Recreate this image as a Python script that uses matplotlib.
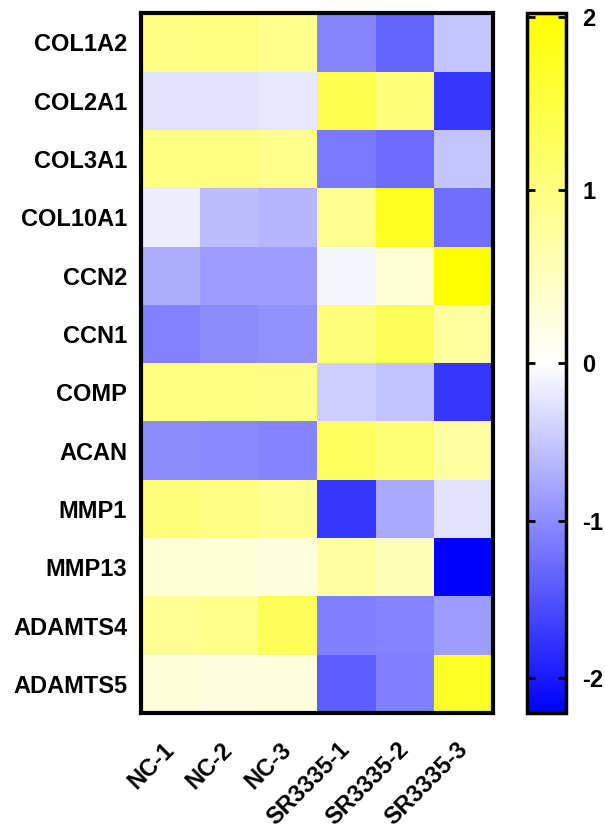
import numpy as np
import matplotlib.pyplot as plt
from matplotlib.colors import LinearSegmentedColormap, TwoSlopeNorm

plt.rcParams['font.family'] = ['Liberation Sans', 'DejaVu Sans']
plt.rcParams['font.weight'] = 'bold'

genes = ['COL1A2', 'COL2A1', 'COL3A1', 'COL10A1', 'CCN2', 'CCN1', 'COMP',
         'ACAN', 'MMP1', 'MMP13', 'ADAMTS4', 'ADAMTS5']
samples = ['NC-1', 'NC-2', 'NC-3', 'SR3335-1', 'SR3335-2', 'SR3335-3']

nc1 = [0.95, -0.25, 1.00, -0.15, -0.70, -1.08, 0.99, -1.00, 1.03, 0.32, 0.84, 0.28]
nc2 = [1.00, -0.25, 1.00, -0.57, -0.84, -1.00, 0.99, -1.01, 0.95, 0.30, 0.92, 0.24]
nc3 = [0.90, -0.20, 0.93, -0.64, -0.84, -0.95, 0.97, -1.06, 0.88, 0.26, 1.30, 0.26]
sr1 = [-1.05, 1.39, -1.16, 0.89, -0.08, 1.03, -0.43, 1.27, -1.74, 0.72, -1.10, -1.41]
sr2 = [-1.35, 1.07, -1.28, 1.75, 0.32, 1.30, -0.53, 1.10, -0.75, 0.56, -1.06, -1.10]
sr3 = [-0.50, -1.74, -0.51, -1.25, 2.02, 0.76, -1.74, 0.72, -0.26, -2.22, -0.84, 1.70]

data = np.array([nc1, nc2, nc3, sr1, sr2, sr3]).T

cmap = LinearSegmentedColormap.from_list('bwy', ['#0000ff', '#ffffff', '#ffff00'])
norm = TwoSlopeNorm(vmin=-2.22, vcenter=0, vmax=2.02)

fig = plt.figure(figsize=(6.05, 8.3), dpi=100)
ax = fig.add_axes([0.233, 0.141, 0.582, 0.843])
cax = fig.add_axes([0.871, 0.141, 0.064, 0.843])

mesh = ax.pcolormesh(data, cmap=cmap, norm=norm)
ax.set_xlim(0, len(samples))
ax.set_ylim(len(genes), 0)
ax.set_xticks(np.arange(len(samples)) + 0.5)
ax.set_xticklabels(samples, rotation=45, ha='right', va='center',
                   rotation_mode='anchor', fontsize=17, fontweight='bold')
ax.set_yticks(np.arange(len(genes)) + 0.5)
ax.set_yticklabels(genes, fontsize=17, fontweight='bold')
ax.tick_params(axis='y', length=0, pad=10)
ax.tick_params(axis='x', length=0, pad=24)
for s in ax.spines.values():
    s.set_linewidth(3)

cb = fig.colorbar(mesh, cax=cax)
cb.set_ticks([-2, -1, 0, 1, 2])
cb.ax.set_yticklabels(['-2', '-1', '0', '1', '2'], fontsize=17, fontweight='bold')
cb.ax.tick_params(direction='in', length=6, width=2, left=True, right=True, pad=12)
cb.outline.set_linewidth(2.5)

plt.savefig('out.png', dpi=100)
